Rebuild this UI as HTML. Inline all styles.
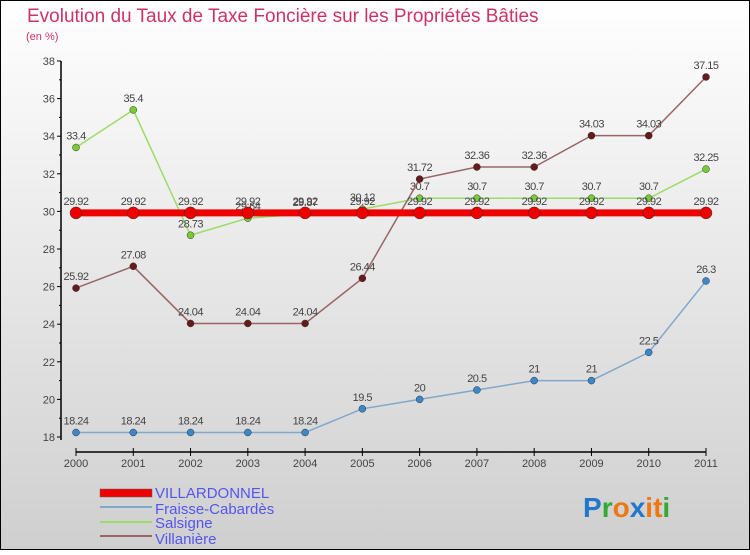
<!DOCTYPE html>
<html><head><meta charset="utf-8">
<style>
body{margin:0;width:750px;height:550px;overflow:hidden;font-family:"Liberation Sans",sans-serif}
svg text{font-family:"Liberation Sans",sans-serif}
</style></head><body>
<svg width="750" height="550" xmlns="http://www.w3.org/2000/svg">
<defs><linearGradient id="bg" x1="0" y1="0" x2="0" y2="1"><stop offset="0" stop-color="#ffffff"/><stop offset="1" stop-color="#cfcfcf"/></linearGradient></defs>
<rect x="0.5" y="0.5" width="749" height="549" fill="url(#bg)" stroke="#000"/>
<text x="27" y="22" font-size="19" fill="#cc3366">Evolution du Taux de Taxe Foncière sur les Propriétés Bâties</text>
<text x="26" y="40" font-size="11" fill="#cc3366">(en %)</text>
<g id="axes"></g>
<g id="series"></g>
<g font-size="15" fill="#5555ee">
<rect x="100" y="489" width="52" height="8" fill="#ee0000" stroke="#666" stroke-width="0.5"/>
<text x="155" y="498">VILLARDONNEL</text>
<line x1="100" y1="507" x2="152" y2="507" stroke="#80a8cc" stroke-width="2"/>
<text x="155" y="514">Fraisse-Cabardès</text>
<line x1="100" y1="522" x2="152" y2="522" stroke="#99dd66" stroke-width="2"/>
<text x="155" y="528">Salsigne</text>
<line x1="100" y1="536" x2="152" y2="536" stroke="#996666" stroke-width="2"/>
<text x="155" y="544">Villanière</text>
</g>
<g font-size="28" font-weight="bold">
<text x="583" y="517"><tspan fill="#2277cc">P</tspan><tspan fill="#33aa33">r</tspan><tspan fill="#ee7711">o</tspan><tspan fill="#2277cc">x</tspan><tspan fill="#ee7711">i</tspan><tspan fill="#ee7711">t</tspan><tspan fill="#33aa33">i</tspan></text>
</g>
</svg>
<script>
const years=["2000","2001","2002","2003","2004","2005","2006","2007","2008","2009","2010","2011"];
const yTicks=[18,20,22,24,26,28,30,32,34,36,38];
const villardonnel=[29.92,29.92,29.92,29.92,29.92,29.92,29.92,29.92,29.92,29.92,29.92,29.92];
const fraisse=[18.24,18.24,18.24,18.24,18.24,19.5,20,20.5,21,21,22.5,26.3];
const salsigne=[33.4,35.4,28.73,29.64,29.87,30.12,30.7,30.7,30.7,30.7,30.7,32.25];
const villaniere=[25.92,27.08,24.04,24.04,24.04,26.44,31.72,32.36,32.36,34.03,34.03,37.15];
const NS="http://www.w3.org/2000/svg";
const x=i=>76+i*(630/(years.length-1));
const y=v=>437-(v-18)*18.8;
function mk(tag,attrs,parent){const e=document.createElementNS(NS,tag);for(const k in attrs)e.setAttribute(k,attrs[k]);parent.appendChild(e);return e;}
const axes=document.getElementById('axes');
const yAxis=mk('line',{x1:61,y1:y(38),x2:61,y2:y(18)+3,stroke:'#000','stroke-width':1.5},axes);


for(let v=18;v<=38;v++){const major=v%2===0;mk('line',{x1:major?57:59,y1:y(v),x2:61,y2:y(v),stroke:'#000'},axes);}
yTicks.forEach(v=>{const t=mk('text',{x:55,y:y(v)+4,'font-size':11,fill:'#444','text-anchor':'end'},axes);t.textContent=v;

});
const xAxis=mk('line',{x1:x(0),y1:452,x2:x(11),y2:452,stroke:'#000','stroke-width':1.5},axes);


years.forEach((yr,i)=>{mk('line',{x1:x(i),y1:448,x2:x(i),y2:456,stroke:'#000'},axes);
const t=mk('text',{x:x(i),y:467,'font-size':11,fill:'#444','text-anchor':'middle'},axes);t.textContent=yr;

});
const sg=document.getElementById('series');
function series(name,data,color,dot,w,r){
const g=mk('g',{},sg);


const p=mk('polyline',{points:data.map((v,i)=>x(i)+','+y(v)).join(' '),fill:'none',stroke:color,'stroke-width':w},g);


data.forEach((v,i)=>{const c=mk('circle',{cx:x(i),cy:y(v),r:r,fill:dot,stroke:'#333','stroke-width':0.5},g);


const t=mk('text',{x:x(i),y:y(v)-8,'font-size':11,fill:'#444','text-anchor':'middle','letter-spacing':'-0.5'},g);t.textContent=v;

});
}
series('fraisse',fraisse,'#80a8cc','#3a88cc',1.5,3.5);
series('salsigne',salsigne,'#99dd66','#77cc33',1.5,3.5);
series('villaniere',villaniere,'#996666','#661a1a',1.5,3.5);
series('villardonnel',villardonnel,'#ee0000','#ee0000',7,6);
</script>
</body></html>
